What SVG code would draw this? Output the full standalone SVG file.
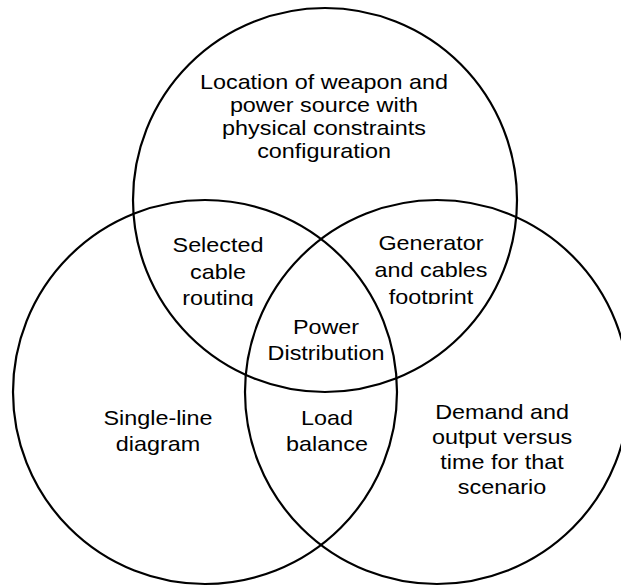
<svg xmlns="http://www.w3.org/2000/svg" width="621" height="588" viewBox="0 0 621 588">
<style>
.c{fill:none;stroke:#000;stroke-width:2.2}
.t{font-family:"Liberation Sans",Arial,sans-serif;font-size:20.5px;fill:#000;text-anchor:middle}
</style>
<defs>
<clipPath id="clipL"><rect x="-70" y="220" width="140" height="86"/></clipPath>
<clipPath id="clipR"><rect x="-70" y="220" width="140" height="84"/></clipPath>
</defs>
<rect width="621" height="588" fill="#fff"/>
<g id="connectors"></g>
<g id="top"><circle class="c" cx="325" cy="200" r="192"/>
<g transform="translate(324 0) scale(1.14 1)">
<text class="t" x="0" y="89">Location of weapon and</text>
<text class="t" x="0" y="112">power source with</text>
<text class="t" x="0" y="135">physical constraints</text>
<text class="t" x="0" y="158">configuration</text></g></g>
<g id="left"><circle class="c" cx="205" cy="392" r="192"/>
<g transform="translate(158 0) scale(1.14 1)">
<text class="t" x="0" y="425">Single-line</text>
<text class="t" x="0" y="451">diagram</text></g></g>
<g id="right"><circle class="c" cx="437" cy="392" r="192"/>
<g transform="translate(502 0) scale(1.14 1)">
<text class="t" x="0" y="419">Demand and</text>
<text class="t" x="0" y="444">output versus</text>
<text class="t" x="0" y="469">time for that</text>
<text class="t" x="0" y="494">scenario</text></g></g>
<g id="topleft"><g transform="translate(218 0) scale(1.14 1)" clip-path="url(#clipL)">
<text class="t" x="0" y="252">Selected</text>
<text class="t" x="0" y="279">cable</text>
<text class="t" x="0" y="305">routing</text></g></g>
<g id="topright"><g transform="translate(431 0) scale(1.14 1)" clip-path="url(#clipR)">
<text class="t" x="0" y="250">Generator</text>
<text class="t" x="0" y="277">and cables</text>
<text class="t" x="0" y="304">footprint</text></g></g>
<g id="center"><g transform="translate(326 0) scale(1.14 1)">
<text class="t" x="0" y="334">Power</text>
<text class="t" x="0" y="360">Distribution</text></g></g>
<g id="bottom"><g transform="translate(327 0) scale(1.14 1)">
<text class="t" x="0" y="425">Load</text>
<text class="t" x="0" y="451">balance</text></g></g>
</svg>
